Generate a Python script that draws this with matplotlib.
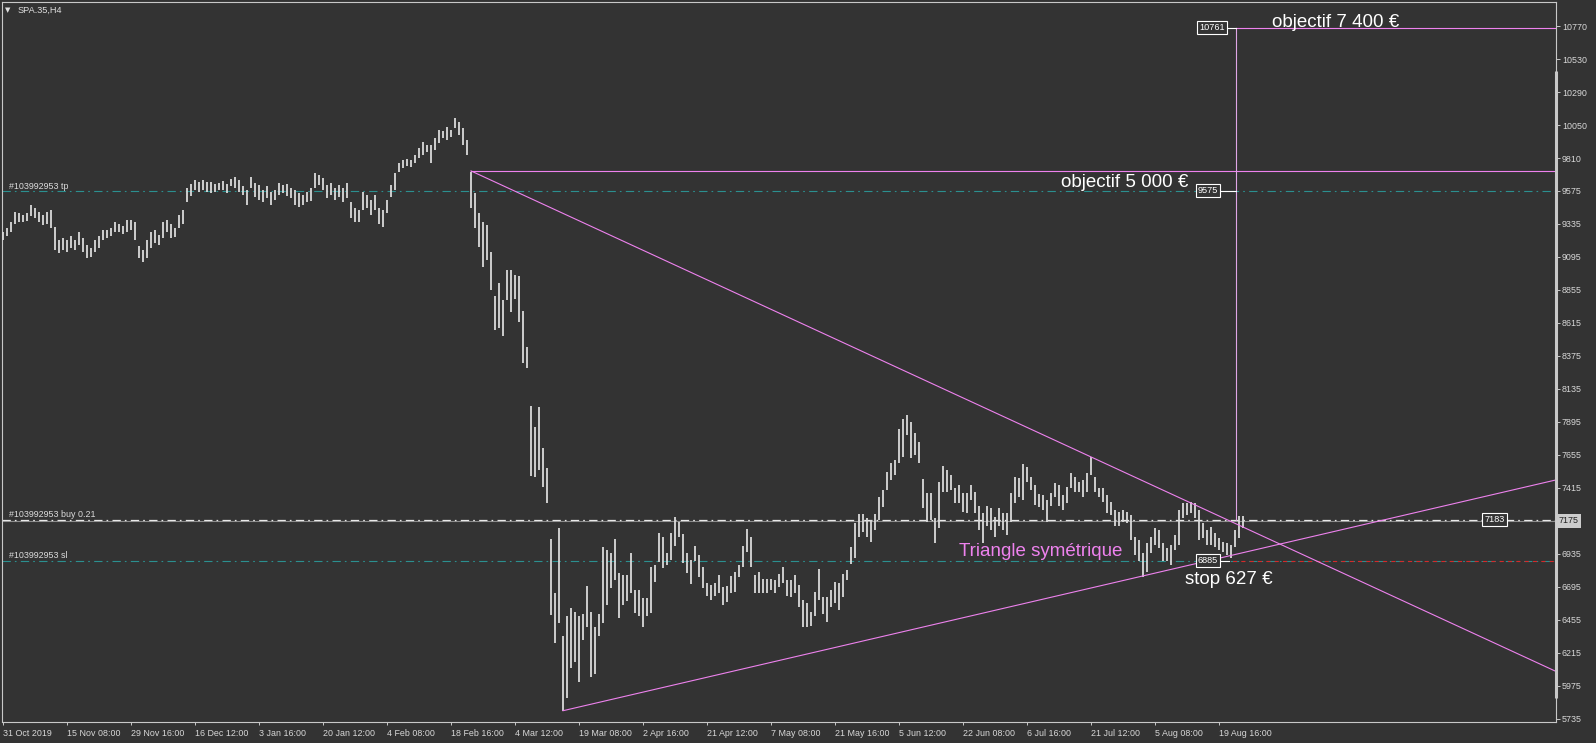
import numpy as np
import matplotlib.pyplot as plt

plt.rcParams['lines.scale_dashes'] = False
plt.rcParams['font.family'] = ['Liberation Sans', 'DejaVu Sans']

symbol = "SPA.35,H4"
order_id = "#103992953"

# H4 bars (every second bar), highs and lows
bar_high = [
    9275, 9305, 9350, 9420, 9410, 9400, 9410, 9470, 9450, 9420, 9400, 9420, 9435, 9310,
    9217, 9230, 9217, 9245, 9217, 9275, 9230, 9180, 9160, 9217, 9245, 9290, 9290, 9305, 9350, 9335, 9320, 9363, 9363, 9350,
    9175, 9145, 9217, 9275, 9290, 9250, 9350, 9363, 9330, 9305, 9400, 9435,
    9595, 9625, 9653, 9640, 9653, 9640, 9640, 9625, 9630, 9645, 9625, 9660, 9675, 9653, 9610, 9581, 9675, 9630,
    9615, 9581, 9610, 9565, 9581, 9630, 9615, 9625, 9595, 9581, 9560, 9545, 9565, 9595, 9705, 9690, 9665, 9615,
    9630, 9595, 9615, 9595, 9630, 9490, 9450, 9435, 9565, 9545, 9508, 9545, 9450, 9435, 9508, 9615, 9705,
    9775, 9798, 9805, 9798, 9835, 9885, 9930, 9910, 9910, 9960, 10017, 10010, 10040, 10017, 10105, 10075, 10030, 9944,
    9710, 9560, 9410, 9350, 9325, 9130, 8810, 8905, 8780, 9000, 9000, 8965, 8955, 8700, 8440, 8010, 7860, 8000, 7705, 7560,
    7045, 6650, 7125, 6340, 6485, 6545, 6510, 6480, 6495, 6700, 6515, 6400, 6495, 6985, 6965, 6945, 7040, 6795,
    6780, 6780, 6945, 6675, 6675, 6615, 6615, 6840,
    6855, 7090, 7055, 6940, 7090, 7200, 7165, 7080, 6940, 6890, 6995, 6930, 6840, 6725, 6710, 6725, 6785, 6695,
    6705, 6775, 6805, 6855, 6995, 7115, 7060, 6785, 6805, 6755, 6755, 6755, 6745, 6790, 6840, 6745, 6745, 6785,
    6710, 6600, 6580, 6515, 6660, 6825, 6620, 6620, 6675, 6730, 6720, 6790, 6820, 6985,
    7160, 7225, 7225, 7195, 7185, 7225, 7350, 7400, 7530, 7595, 7620, 7845, 7915, 7945, 7895, 7815, 7750, 7480, 7380, 7380,
    7195, 7460, 7575, 7545, 7510, 7415, 7435, 7380, 7380, 7435, 7385, 7280, 7235, 7280, 7270, 7205, 7270, 7235, 7235, 7380,
    7495, 7490, 7585, 7570, 7495, 7435, 7370, 7365, 7330, 7380, 7450, 7435, 7365, 7420, 7525, 7495, 7460, 7475, 7525, 7640,
    7495, 7415, 7415, 7365, 7315, 7255, 7240, 7255, 7240, 7220, 7060, 7035, 6945, 7015, 7060, 7125, 7110, 7015, 6980, 7000,
    7070, 7255, 7305, 7305, 7315, 7305, 7255, 7160, 7110, 7130, 7085, 7050, 7020, 7015, 7000, 7110, 7210, 7210,
]
bar_low = [
    9217, 9245, 9275, 9330, 9350, 9345, 9355, 9390, 9375, 9350, 9325, 9335, 9305, 9145,
    9122, 9145, 9130, 9160, 9145, 9180, 9130, 9085, 9095, 9130, 9160, 9217, 9230, 9245, 9275, 9275, 9260, 9275, 9290, 9217,
    9085, 9060, 9085, 9160, 9195, 9180, 9230, 9275, 9230, 9240, 9305, 9330,
    9490, 9540, 9581, 9565, 9581, 9565, 9560, 9565, 9581, 9581, 9560, 9610, 9595, 9565, 9545, 9470, 9595, 9530,
    9508, 9490, 9520, 9470, 9508, 9545, 9560, 9540, 9520, 9470, 9460, 9470, 9490, 9500, 9595, 9615, 9581, 9520,
    9545, 9508, 9530, 9490, 9520, 9375, 9350, 9350, 9435, 9450, 9400, 9435, 9330, 9315, 9410, 9530, 9581,
    9710, 9740, 9755, 9750, 9775, 9815, 9835, 9855, 9775, 9870, 9920, 9960, 9944, 9965, 10030, 9980, 9910, 9835,
    9450, 9305, 9165, 9020, 9075, 8855, 8560, 8580, 8520, 8780, 8690, 8790, 8620, 8325, 8290, 7500, 7495, 7545, 7420, 7305,
    6490, 6290, 6430, 5795, 5890, 6105, 6150, 6005, 6310, 6400, 6040, 6060, 6335, 6430, 6565, 6690, 6745, 6470,
    6565, 6590, 6650, 6505, 6480, 6400, 6480, 6505,
    6730, 6875, 6830, 6855, 6890, 6995, 7055, 6870, 6795, 6715, 6880, 6770, 6690, 6630, 6600, 6630, 6650, 6560,
    6585, 6650, 6660, 6770, 6840, 6950, 6840, 6650, 6650, 6650, 6650, 6675, 6650, 6695, 6725, 6630, 6620, 6650,
    6550, 6405, 6405, 6410, 6485, 6600, 6500, 6440, 6550, 6580, 6530, 6620, 6745, 6865,
    6905, 7060, 7095, 7060, 7025, 7110, 7183, 7275, 7400, 7475, 7510, 7595, 7640, 7800, 7635, 7655, 7595, 7270, 7165, 7183,
    7015, 7125, 7385, 7385, 7400, 7305, 7305, 7240, 7230, 7325, 7230, 7110, 7015, 7135, 7110, 7060, 7135, 7110, 7075, 7165,
    7305, 7350, 7330, 7460, 7400, 7290, 7275, 7255, 7165, 7280, 7345, 7280, 7255, 7305, 7415, 7385, 7385, 7350, 7385, 7510,
    7385, 7345, 7315, 7235, 7220, 7135, 7135, 7170, 7160, 7035, 6930, 6880, 6770, 6805, 6940, 7000, 6980, 6880, 6880, 6855,
    6965, 7000, 7195, 7220, 7235, 7195, 7035, 7050, 7000, 7000, 6985, 6965, 6950, 6930, 6905, 6985, 7050, 7125,
]

date_labels = ["31 Oct 2019", "15 Nov 08:00", "29 Nov 16:00", "16 Dec 12:00", "3 Jan 16:00",
               "20 Jan 12:00", "4 Feb 08:00", "18 Feb 16:00", "4 Mar 12:00", "19 Mar 08:00",
               "2 Apr 16:00", "21 Apr 12:00", "7 May 08:00", "21 May 16:00", "5 Jun 12:00",
               "22 Jun 08:00", "6 Jul 16:00", "21 Jul 12:00", "5 Aug 08:00", "19 Aug 16:00"]
date_bars = [0, 16, 32, 48, 64, 80, 96, 112, 128, 144, 160, 176, 192, 208, 224, 240, 256, 272, 288, 304]
price_ticks = [10770, 10530, 10290, 10050, 9810, 9575, 9335, 9095, 8855, 8615, 8375, 8135,
               7895, 7655, 7415, 7175, 6935, 6695, 6455, 6215, 5975, 5735]

tp_level = 9575
buy_level = 7183
sl_level = 6885
bid_level = 7175
target_level = 10761
neck_level = 9719
top_line = [(117, 9719), (272, 7640)]
bottom_line = [(140, 5795), (285, 6775)]
target_bar = 308.25

BG = '#333333'
BAR = '#dadada'
GRID = '#c8c8c8'
TEAL = '#2b8f8f'
VIOLET = '#ee82ee'

x_min, x_max = -0.25, 388.25

fig = plt.figure(figsize=(15.96, 7.43), dpi=100, facecolor=BG)
ax = fig.add_axes([2 / 1596, 21 / 743, 1554 / 1596, 720 / 743], facecolor=BG)
ax.set_xlim(x_min, x_max)
ax.set_ylim(5713, 10947)

x = np.arange(len(bar_high))
ax.vlines(x, bar_low, bar_high, color=BAR, lw=1.3, zorder=3)

dashdot = (0, (6.0, 2.9, 1.2, 3.1))
ax.axhline(tp_level, color=TEAL, lw=0.8, ls=dashdot, zorder=2)
ax.axhline(sl_level, color=TEAL, lw=0.8, ls=dashdot, zorder=2)
ax.plot([306.5, x_max], [sl_level, sl_level], color='#d42a2a', lw=0.8, ls=(3.5, (3, 3)), zorder=2)
ax.axhline(bid_level, color='#8c8c8c', lw=0.8, zorder=2)
ax.axhline(buy_level, color='#e8e8e8', lw=0.9, ls=dashdot, zorder=2)

# triangle lines, extended to the right edge
for (x0, y0), (x1, y1) in (top_line, bottom_line):
    slope = (y1 - y0) / (x1 - x0)
    ax.plot([x0, x_max], [y0, y0 + slope * (x_max - x0)], color=VIOLET, lw=0.8, zorder=4)
ax.plot([top_line[0][0], x_max], [neck_level, neck_level], color=VIOLET, lw=0.8, zorder=4)
ax.plot([target_bar, target_bar], [buy_level, target_level], color='#e0a6e6', lw=0.8, zorder=4)
ax.plot([target_bar, x_max], [target_level, target_level], color=VIOLET, lw=0.8, zorder=4)

# price boxes
def price_box(xr, y, txt, ha='right'):
    ax.text(xr, y, txt, ha=ha, va='center', fontsize=6.6, color='white', zorder=6,
            bbox=dict(boxstyle='square,pad=0.22', fc=BG, ec='white', lw=0.8))

price_box(305.5, target_level, "10761")
ax.plot([305.75, target_bar], [target_level, target_level], color='white', lw=0.8, zorder=5)
price_box(303.8, tp_level, "9575")
ax.plot([304, target_bar], [tp_level, tp_level], color='white', lw=0.8, zorder=5)
price_box(303.8, sl_level, "6885")
ax.plot([304, 306.5], [sl_level, sl_level], color='white', lw=0.8, zorder=5)
price_box(372.9, buy_level, "7183", ha='center')

ax.text(317.25, 10767, "objectif 7 400 €", color='white', fontsize=13.5, va='baseline', zorder=7)
ax.text(296.25, 9600, "objectif 5 000 €", color='white', fontsize=13.5, va='baseline', ha='right', zorder=7)
ax.text(239, 6921, "Triangle symétrique", color=VIOLET, fontsize=13.5, va='baseline', zorder=7)
ax.text(295.5, 6716, "stop 627 €", color='white', fontsize=13.5, va='baseline', zorder=7)

small = dict(fontsize=6.4, color='#dcdcdc', va='baseline', zorder=7)
ax.text(1.5, tp_level + 12, order_id + " tp", **small)
ax.text(1.5, buy_level + 22, order_id + " buy 0.21", **small)
ax.text(1.5, sl_level + 22, order_id + " sl", **small)

# axes styling
for s in ax.spines.values():
    s.set_color(GRID)
    s.set_linewidth(0.8)
ax.yaxis.tick_right()
ax.set_yticks(price_ticks)
# the current price tag replaces the plain 7175 label
ax.set_yticklabels(['' if p == bid_level else str(p) for p in price_ticks])
ax.tick_params(axis='y', colors=GRID, labelcolor='#d8d8d8', labelsize=6.4, length=2.7, width=0.7, pad=1.5)
ax.set_xticks(date_bars)
ax.set_xticklabels(date_labels, ha='left')
ax.tick_params(axis='x', colors=GRID, labelcolor='#d8d8d8', labelsize=6.4, length=2.2, width=0.7, pad=2.5)

ax.annotate(str(bid_level), xy=(1, bid_level), xycoords=('axes fraction', 'data'),
            xytext=(1.8, 0), textcoords='offset points', ha='left', va='center',
            fontsize=6.4, color='#202020', zorder=8, annotation_clip=False,
            bbox=dict(boxstyle='square,pad=0.25', fc='#cccccc', ec='none'))
ax.plot([x_max, x_max], [10447, 5890], color='#c8c8c8', lw=2.2, clip_on=False,
        solid_capstyle='butt', zorder=5)

fig.text(5 / 1596, 1 - 10.5 / 743, "▼", fontsize=5, color='#e0e0e0', va='center', family='DejaVu Sans')
fig.text(18 / 1596, 1 - 10.5 / 743, symbol, fontsize=6.6, color='#e0e0e0', va='center')

fig.savefig('out.png', dpi=100, facecolor=BG)
